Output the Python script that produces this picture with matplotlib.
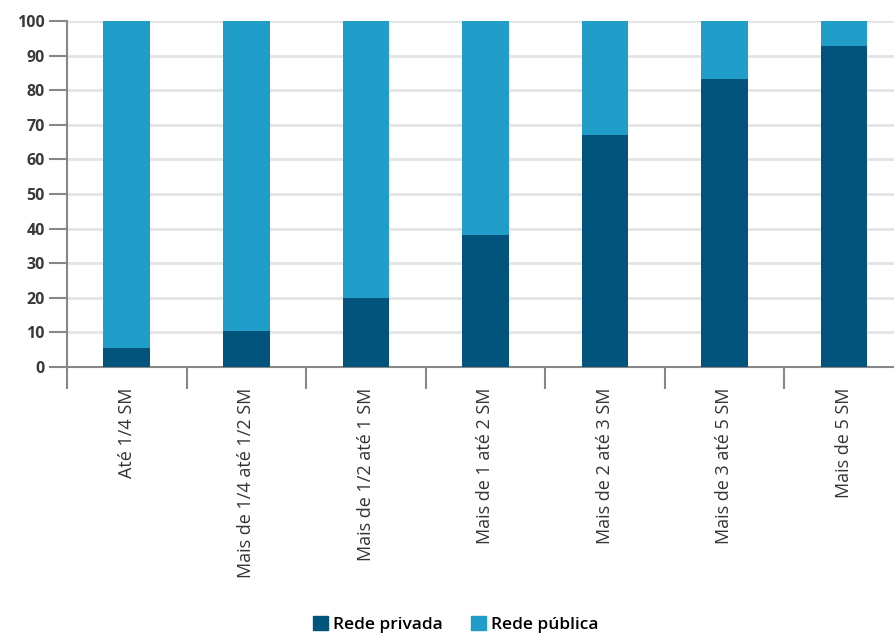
import matplotlib
matplotlib.use("Agg")
import matplotlib.pyplot as plt
from matplotlib.patches import Patch
import numpy as np

categories = ["Até 1/4 SM", "Mais de 1/4 até 1/2 SM", "Mais de 1/2 até 1 SM",
              "Mais de 1 até 2 SM", "Mais de 2 até 3 SM", "Mais de 3 até 5 SM",
              "Mais de 5 SM"]
rede_privada = [5.6, 10.4, 19.8, 38.1, 67.2, 83.3, 92.9]
rede_publica = [100 - v for v in rede_privada]
yticks = [0, 10, 20, 30, 40, 50, 60, 70, 80, 90, 100]

c_priv = "#02547D"
c_pub = "#209DC8"

plt.rcParams['font.family'] = ['Open Sans', 'DejaVu Sans']

fig = plt.figure(figsize=(8.94, 6.37), dpi=100)
ax = fig.add_axes([0.075, 0.4239, 0.925, 0.543])

x = np.arange(len(categories))
ax.bar(x, rede_privada, width=0.39, color=c_priv, zorder=3)
ax.bar(x, rede_publica, width=0.39, bottom=rede_privada, color=c_pub, zorder=3)

ax.set_ylim(0, 100)
ax.set_xlim(-0.5, 6.42)
ax.set_yticks(yticks)
ax.set_yticklabels([str(v) for v in yticks], fontsize=11.5, fontweight='bold', color='#3a3a3a')
ax.yaxis.grid(True, color='#E4E4E4', linewidth=2, zorder=0)

ax.set_xticks(np.arange(-0.5, 6.5, 1.0))
ax.set_xticklabels([])
ax.set_xticks(x, minor=True)
ax.set_xticklabels(categories, minor=True, rotation=90, fontsize=13, fontweight='medium',
                   color='#333333', va='top', ha='center')
ax.tick_params(axis='x', which='minor', length=0, pad=15)
ax.tick_params(axis='x', which='major', length=16, width=1.5, color='#888888')
ax.tick_params(axis='y', length=13, width=1.5, color='#888888', pad=3)

for s in ['top', 'right']:
    ax.spines[s].set_visible(False)
for s in ['left', 'bottom']:
    ax.spines[s].set_color('#888888')
    ax.spines[s].set_linewidth(1.5)

handles = [Patch(color=c_priv, label="Rede privada"), Patch(color=c_pub, label="Rede pública")]
fig.legend(handles=handles, loc='center', bbox_to_anchor=(0.51, 0.019), ncol=2, frameon=False,
           prop={'size': 12.5, 'weight': 'semibold'}, handlelength=0.85, handleheight=0.85,
           handletextpad=0.3, columnspacing=1.6)

fig.savefig("out.png", dpi=100)
